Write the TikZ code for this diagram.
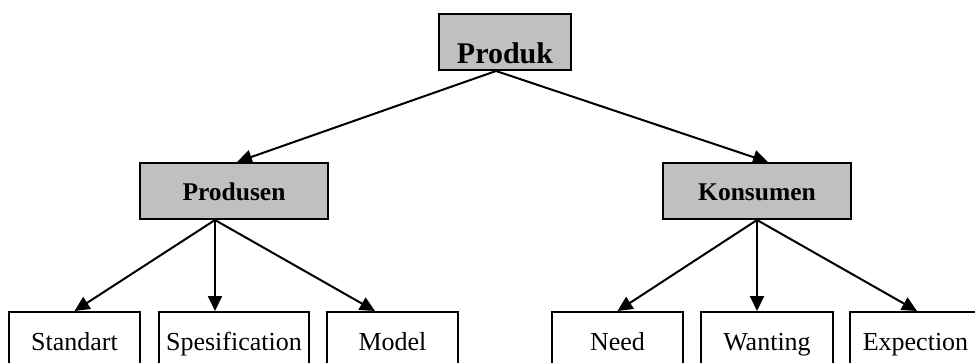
\documentclass[tikz,border=0pt]{standalone}
\usepackage{fontspec}
\setmainfont{Liberation Serif}
\usetikzlibrary{positioning,arrows.meta}
\definecolor{boxgray}{RGB}{192,192,192}
\tikzset{root/.style = {draw, fill=boxgray, line width=2pt, minimum width=132pt, text height=46pt, text depth=4pt, inner ysep=3pt, font=\fontsize{30}{34}\selectfont\bfseries}}
\tikzset{topic/.style = {draw, fill=boxgray, line width=2pt, minimum width=188pt, text height=18pt, text depth=0pt, inner ysep=19pt, font=\fontsize{25.5}{30}\selectfont\bfseries}}
\tikzset{item/.style = {draw, line width=2pt, minimum width=131pt, text height=17pt, text depth=6pt, inner ysep=21pt, font=\fontsize{26}{30}\selectfont}}

\begin{document}
\begin{tikzpicture}[x=1pt, y=-1pt, >={Triangle[length=15pt, width=14pt]}, on grid, line width=2pt]
  \useasboundingbox (0,0) rectangle (975,362);
  \clip (0,0) rectangle (975,362);
  \node [root] (produk) at (505,42) {Produk};
  \node [topic] (produsen) at (234,191) {Produsen};
  \node [topic, right=523pt of produsen] (konsumen) {Konsumen};
  \node [item, below left=153.5pt and 159.5pt of produsen] (standart) {Standart};
  \node [item, below=153.5pt of produsen, minimum width=150pt] (spesification) {Spesification};
  \node [item, below right=153.5pt and 158.5pt of produsen] (model) {Model};
  \node [item, below left=153.5pt and 139.5pt of konsumen] (need) {Need};
  \node [item, below right=153.5pt and 10pt of konsumen, minimum width=132pt] (wanting) {Wanting};
  \node [item, below right=153.5pt and 158.5pt of konsumen] (expection) {Expection};
  \draw[->] ([xshift=-9pt]produk.south) -- ([xshift=3pt]produsen.north);
  \draw[->] ([xshift=-9pt]produk.south) -- ([xshift=11pt]konsumen.north);
  \draw[->] ([xshift=-19pt]produsen.south) -- (standart.north);
  \draw[->] ([xshift=-19pt]produsen.south) -- ([xshift=-19pt]spesification.north);
  \draw[->] ([xshift=-19pt]produsen.south) -- ([xshift=-17.5pt]model.north);
  \draw[->] (konsumen.south) -- (need.north);
  \draw[->] (konsumen.south) -- ([xshift=-10pt]wanting.north);
  \draw[->] (konsumen.south) -- ([xshift=1.5pt]expection.north);
\end{tikzpicture}
\end{document}
